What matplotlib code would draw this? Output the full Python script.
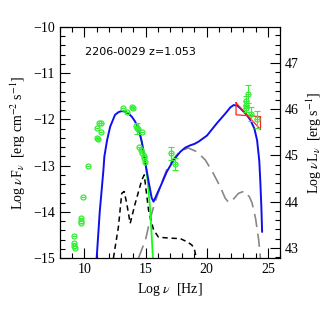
import numpy as np
import matplotlib.pyplot as plt
from matplotlib.ticker import MultipleLocator

plt.rcParams['font.family'] = ['Liberation Serif', 'DejaVu Serif']
plt.rcParams['mathtext.fontset'] = 'stix'

# total model
blue_x = [11.0, 11.25, 11.55, 11.63, 11.85, 12.1, 12.5, 12.8, 13.05, 13.3, 13.6, 13.9, 14.15, 14.45,
          14.7, 14.95, 15.25, 15.5, 15.65, 16.2, 16.74, 17.29, 17.84, 18.25, 18.66, 19.0, 19.34,
          20.02, 20.84, 21.5, 21.93, 22.2, 22.5, 22.75, 23.2, 23.57, 23.9, 24.12, 24.3, 24.39,
          24.47, 24.53]
blue_y = [-15.0, -14.0, -13.1, -12.8, -12.45, -12.16, -11.9, -11.84, -11.82, -11.83, -11.87, -11.95,
          -12.05, -12.22, -12.5, -12.9, -13.35, -13.7, -13.78, -13.46, -13.13, -12.88, -12.7, -12.61,
          -12.56, -12.53, -12.48, -12.35, -12.08, -11.88, -11.74, -11.69, -11.7, -11.76, -11.88,
          -12.01, -12.2, -12.45, -12.9, -13.38, -13.9, -14.43]

# synchrotron
green_x = [14.45, 14.7, 14.97, 15.2, 15.38, 15.6]
green_y = [-12.22, -12.5, -12.88, -13.4, -13.96, -15.0]

# disc + torus
disc_x = [12.37, 12.78, 13.05, 13.25, 13.46, 13.74, 14.15, 14.69, 14.89, 15.24, 15.65, 16.06,
          17.0, 17.84, 18.4, 18.79, 19.0, 19.15]
disc_y = [-15.0, -14.32, -13.6, -13.56, -13.82, -14.25, -13.82, -13.31, -13.2, -13.96, -14.39, -14.55,
          -14.57, -14.58, -14.65, -14.72, -14.82, -15.0]

# SSC + EC
ic_x = [14.42, 15.0, 15.38, 15.65, 16.2, 16.74, 17.29, 17.84, 18.5, 19.2, 19.89, 20.5, 21.11,
        21.5, 21.8, 22.2, 22.6, 23.1, 23.5, 23.71, 24.0, 24.25, 24.39]
ic_y = [-15.0, -14.6, -14.15, -13.9, -13.45, -13.08, -12.85, -12.68, -12.62, -12.7, -12.88, -13.15, -13.46,
        -13.7, -13.8, -13.72, -13.6, -13.55, -13.68, -13.81, -14.15, -14.61, -15.0]

# data points
pts_x = [9.15, 9.15, 9.15, 9.23, 9.7, 9.7, 9.75, 9.87, 10.32,
         11.15, 11.32, 11.05, 11.36, 11.02, 11.12,
         13.13, 13.46, 13.87, 13.98,
         14.23, 14.34, 14.69, 14.5, 14.61, 14.72, 14.83, 14.97, 14.9]
pts_y = [-14.52, -14.67, -14.75, -14.78, -14.14, -14.2, -14.25, -13.68, -13.01,
         -12.08, -12.08, -12.18, -12.27, -12.41, -12.43,
         -11.76, -11.83, -11.74, -11.76,
         -12.14, -12.21, -12.27, -12.59, -12.66, -12.73, -12.84, -12.92, -12.8]

err_x = [14.28, 17.07, 17.43, 23.4, 23.25, 23.2, 23.22, 23.65, 24.15]
err_y = [-12.19, -12.73, -12.97, -11.45, -11.6, -11.68, -11.76, -11.88, -12.0]
err_dy = [0.12, 0.14, 0.13, 0.19, 0.1, 0.08, 0.08, 0.15, 0.18]

bow_x = [22.4, 22.4, 24.4, 24.4, 22.4]
bow_y = [-11.64, -11.9, -11.94, -12.22, -11.64]

fig = plt.figure(figsize=(3.27, 3.16), dpi=100)
ax = fig.add_axes([0.1835, 0.1835, 0.673, 0.731])

ax.plot(ic_x, ic_y, color='#888888', lw=1.2, dashes=(8, 4))
ax.plot(disc_x, disc_y, color='black', lw=1.1, dashes=(3.5, 2.5))
ax.plot(green_x, green_y, color='#11ff11', lw=1.3)
ax.plot(blue_x, blue_y, color='#1010ee', lw=1.4)
ax.plot(bow_x, bow_y, color='#ff2020', lw=0.9)

ax.errorbar(err_x, err_y, yerr=err_dy, fmt='none', ecolor='#33ee33', elinewidth=0.8,
            capsize=2.2, capthick=0.8)
ax.plot(pts_x + err_x, pts_y + err_y, 'o', ms=3.6, mfc='none', mec='#33ee33', mew=0.9)
ax.plot(pts_x + err_x, pts_y + err_y, '_', ms=2.6, mec='#33ee33', mew=0.8)

ax.text(10.05, -10.54, '2206-0029 z=1.053', fontsize=8, family='DejaVu Sans', va='center')

ax.set_xlim(8, 26)
ax.set_ylim(-15, -10)
ax.xaxis.set_major_locator(MultipleLocator(5))
ax.xaxis.set_minor_locator(MultipleLocator(1))
ax.yaxis.set_major_locator(MultipleLocator(1))
ax.yaxis.set_minor_locator(MultipleLocator(0.2))
ax.tick_params(which='both', direction='in', top=True, right=False, labelsize=10, width=0.8)
ax.tick_params(which='major', length=7)
ax.tick_params(which='minor', length=3.5)
ax.set_xlabel(r'Log $\nu$  [Hz]', fontsize=10)
ax.set_ylabel(r'Log $\nu$F$_\nu$  [erg cm$^{-2}$ s$^{-1}$]', fontsize=10)

ax2 = ax.twinx()
ax2.set_ylim(-15 + 57.78, -10 + 57.78)
ax2.yaxis.set_major_locator(MultipleLocator(1))
ax2.yaxis.set_minor_locator(MultipleLocator(0.2))
ax2.tick_params(which='both', direction='in', labelsize=10, width=0.8)
ax2.tick_params(which='major', length=7)
ax2.tick_params(which='minor', length=3.5)
ax2.set_ylabel(r'Log $\nu$L$_\nu$  [erg s$^{-1}$]', fontsize=10)

fig.savefig('out.png', dpi=100)
